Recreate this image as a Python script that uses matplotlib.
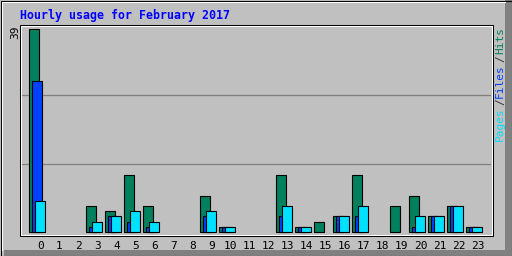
import matplotlib
matplotlib.use("Agg")
from matplotlib import pyplot as plt
from matplotlib.patches import Rectangle
from matplotlib.lines import Line2D

hours = list(range(24))
hits = [39, 0, 0, 5, 4, 11, 5, 0, 0, 7, 1, 0, 0, 11, 1, 2, 3, 11, 0, 5, 7, 3, 5, 1]
files = [29, 0, 0, 1, 3, 2, 1, 0, 0, 3, 1, 0, 0, 3, 1, 0, 3, 3, 0, 0, 1, 3, 5, 1]
pages = [6, 0, 0, 2, 3, 4, 2, 0, 0, 4, 1, 0, 0, 5, 1, 0, 3, 5, 0, 0, 3, 3, 5, 1]
y_max = 39

W, H = 512, 256
GREY = "#C0C0C0"
DKGREY = "#808080"
HIT_C = "#00805C"
FILE_C = "#0040FF"
PAGE_C = "#00E0FF"
MONO = "DejaVu Sans Mono"

fig = plt.figure(figsize=(W / 100, H / 100), dpi=100, facecolor=GREY)


def fx(px):
    return px / W


def fy(py):
    return 1 - py / H


# outer border
fig.add_artist(Rectangle((fx(505), 0), fx(7), 1, color=DKGREY, lw=0, transform=fig.transFigure))
fig.add_artist(Rectangle((fx(4), 0), 1, fy(250), color=DKGREY, lw=0, transform=fig.transFigure))
fig.add_artist(Line2D([fx(1.5), fx(1.5)], [fy(1.5), fy(250)], color="white", lw=0.75, transform=fig.transFigure))
fig.add_artist(Line2D([fx(1.5), fx(505)], [fy(1.5), fy(1.5)], color="white", lw=0.75, transform=fig.transFigure))
fig.add_artist(Rectangle((fx(0.5), fy(255.5)), fx(511), fy(0.5) - fy(255.5), fill=False, ec="black", lw=0.75,
                         transform=fig.transFigure))

# plot area: interior 20..491 x 25..234 (pixels)
ax = fig.add_axes([fx(20), fy(234), fx(471), fy(25) - fy(234)])
ax.set_facecolor(GREY)
for s in ax.spines.values():
    s.set_visible(False)

px_per_unit = 203 / y_max
ax.set_ylim(-2 / px_per_unit, y_max + 4 / px_per_unit)
ax.set_xlim(-9 / 19, 462 / 19)

# grid lines sit at fixed thirds of the plot box
for g in (1 / 3, 2 / 3):
    ax.plot([0, 1], [g, g], color=DKGREY, lw=0.9, zorder=1, transform=ax.transAxes)

bw = 10 / 19
for h in hours:
    for val, off, c in ((hits[h], 0, HIT_C), (files[h], 3 / 19, FILE_C), (pages[h], 6 / 19, PAGE_C)):
        if val > 0:
            ax.bar(h + off, val, width=bw, align="edge", color=c, edgecolor="black", linewidth=0.8, zorder=2)

ax.set_yticks([])
ax.set_xticks([h + 0.6 for h in hours])
ax.set_xticklabels([str(h) for h in hours], fontfamily=MONO, fontsize=8)
ax.tick_params(axis="x", length=0, pad=5)

# plot frame (sunken look)
fig.add_artist(Rectangle((fx(19.5), fy(235.5)), fx(473), fy(24.5) - fy(235.5), fill=False, ec="black", lw=0.75,
                         transform=fig.transFigure))
fig.add_artist(Rectangle((fx(20.5), fy(234.5)), fx(471), fy(25.5) - fy(234.5), fill=False, ec="white", lw=0.75,
                         transform=fig.transFigure))

fig.text(fx(20), fy(15), "Hourly usage for February 2017", color="#0000FF", fontfamily=MONO,
         fontweight="bold", fontsize=8.4, ha="left", va="center")
fig.text(fx(15), fy(32), str(y_max), rotation=90, fontfamily=MONO, fontsize=8, ha="center", va="center")

legend = [("Hits", HIT_C, 40), ("/", "#303030", 59), ("Files", FILE_C, 81), ("/", "#303030", 102),
          ("Pages", PAGE_C, 124)]
for txt, c, yc in legend:
    fig.text(fx(500), fy(yc), txt, rotation=90, color=c, fontfamily=MONO, fontsize=8,
             ha="center", va="center")

fig.savefig("out.png", dpi=100, facecolor=GREY)
